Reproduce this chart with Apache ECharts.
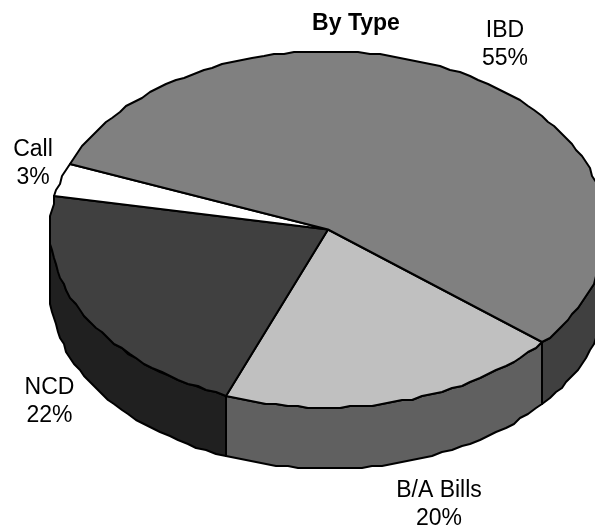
<!DOCTYPE html>
<html>
<head>
<meta charset="utf-8">
<style>html,body{margin:0;padding:0;background:#fff}#main{width:595px;height:529px;overflow:hidden}</style>
<script src="https://cdn.jsdelivr.net/npm/echarts@6/dist/echarts.min.js"></script>
</head>
<body>
<div id="main"></div>
<script>
// Portfolio split by type, drawn as a tilted pie with a raised rim.
const categories = ['B/A Bills', 'NCD', 'Call', 'IBD'];
const shares = [20, 22, 3, 55];
const percentLabels = ['20%', '22%', '3%', '55%'];

const topColors = ['#C0C0C0', '#404040', '#FFFFFF', '#808080'];
const rimColors = ['#606060', '#202020', '#808080', '#404040'];
const labelAnchors = [[439, 505], [49.5, 402], [33, 164], [505, 45]];

const START_ANGLE = 39.5;   // clockwise from 3 o'clock, degrees
const RIM_DEPTH = 61 / 178; // rim height in units of the vertical radius
const FACET = 2.2;          // outline sampling step, degrees
const SNAP = 2;             // outline vertices sit on a coarse pixel lattice

const total = shares.reduce((a, b) => a + b, 0);
const ranges = [];
shares.reduce((from, v) => {
  const to = from + v / total * 360;
  ranges.push([from, to]);
  return to;
}, START_ANGLE);

function rim(api, a, depth) {
  const r = a * Math.PI / 180;
  const p = api.coord([Math.cos(r), Math.sin(r) + depth]);
  return [Math.round(p[0] / SNAP) * SNAP, Math.round(p[1] / SNAP) * SNAP];
}
function arc(api, from, to, depth) {
  const n = Math.max(1, Math.round(Math.abs(to - from) / FACET));
  const pts = [];
  for (let i = 0; i <= n; i++) pts.push(rim(api, from + (to - from) * i / n, depth));
  return pts;
}
const outline = { stroke: '#000', lineWidth: 2, lineJoin: 'round' };

function renderTop(params, api) {
  const [from, to] = ranges[params.dataIndex];
  const pts = [api.coord([0, 0])].concat(arc(api, from, to, 0));
  return {
    type: 'polygon',
    shape: { points: pts },
    style: Object.assign({ fill: topColors[params.dataIndex] }, outline)
  };
}

// Only the part of a slice on the near half of the ellipse shows its rim.
function renderRim(params, api) {
  const [from, to] = ranges[params.dataIndex];
  const parts = [];
  [[0, 180], [360, 540]].forEach(([lo, hi]) => {
    const a = Math.max(from, lo), b = Math.min(to, hi);
    if (b > a) {
      const pts = arc(api, a, b, 0).concat(arc(api, b, a, RIM_DEPTH));
      parts.push({
        type: 'polygon',
        shape: { points: pts },
        style: Object.assign({ fill: rimColors[params.dataIndex] }, outline)
      });
    }
  });
  return { type: 'group', children: parts };
}

function renderLabel(params, api) {
  const [x, y] = labelAnchors[params.dataIndex];
  return {
    type: 'text',
    style: {
      x, y,
      text: categories[params.dataIndex] + '\n' + percentLabels[params.dataIndex],
      fill: '#000',
      font: '23px "Liberation Sans", Arial, sans-serif',
      lineHeight: 28,
      align: 'center',
      verticalAlign: 'middle'
    }
  };
}

const rows = shares.map((v, i) => ({ name: categories[i], value: [v] }));
const chart = echarts.init(document.getElementById('main'), null, { renderer: 'canvas' });
chart.setOption({
  animation: false,
  backgroundColor: '#fff',
  title: {
    text: 'By Type',
    left: 351,
    top: 7,
    textAlign: 'center',
    textStyle: { fontFamily: '"Liberation Sans", Arial, sans-serif', fontSize: 23, fontWeight: 'bold', color: '#000' }
  },
  // The ellipse is centred at (328, 229.5) and runs past the right edge of the
  // canvas, so the horizontal axis stops short of +1 where the grid ends.
  grid: { left: 50, top: 51.5, width: 545, height: 356 },
  xAxis: { type: 'value', min: -1, max: 0.9604, show: false },
  yAxis: { type: 'value', min: -1, max: 1, inverse: true, show: false },
  series: [
    { type: 'custom', z: 1, clip: false, renderItem: renderRim, data: rows },
    { type: 'custom', z: 2, clip: false, renderItem: renderTop, data: rows },
    { type: 'custom', z: 3, clip: false, renderItem: renderLabel, data: rows }
  ]
});
</script>
</body>
</html>
